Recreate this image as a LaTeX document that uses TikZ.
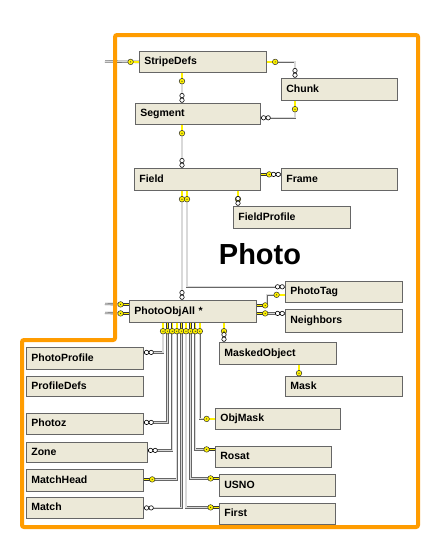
\documentclass[tikz,border=0pt]{standalone}
\usepackage{fontspec}
\setmainfont{Liberation Sans}
\usetikzlibrary{calc}
\definecolor{tblfill}{HTML}{ECE9D8}
\definecolor{keyyellow}{HTML}{FFF200}
\definecolor{frameorange}{HTML}{FF9C00}
\tikzset{
  tbl/.style 2 args={draw=black!60, line width=0.8pt, fill=tblfill, anchor=north west,
    inner xsep=5pt, inner ysep=0pt, align=left, text width=#1, minimum height=#2,
    text height=8pt, text depth=2pt, font=\bfseries\fontsize{10.5}{12}\selectfont},
  link/.style={draw=black!60, double=black!15, double distance=1.1pt, line width=0.6pt},
  pkey/.pic={
    \draw[black!80, line width=2.4pt] (0,0) -- (6,0);
    \draw[keyyellow, line width=1.4pt] (0.3,0) -- (6,0);
    \filldraw[fill=keyyellow, draw=black!80, line width=0.5pt] (8.4,0) circle (2.8);
    \fill[black!80] (8.4,0) circle (0.6);
  },
  many/.pic={
    \filldraw[fill=white, draw=black, line width=0.6pt] (2.8,0) circle (2.2) (7.4,0) circle (2.2);
  }
}

\begin{document}
\begin{tikzpicture}[x=1pt, y=-1pt]
  \fill[white] (0,0) rectangle (440,560);
  \useasboundingbox (0,0) rectangle (440,560);

  % tables
  \node[tbl={117pt}{21pt}] (StripeDefs) at (139,51) {StripeDefs};
  \node[tbl={106pt}{22pt}] (Chunk) at (281,78) {Chunk};
  \node[tbl={115pt}{21pt}] (Segment) at (135,103) {Segment};
  \node[tbl={116pt}{22pt}] (Field) at (134,168) {Field};
  \node[tbl={106pt}{22pt}] (Frame) at (281,168) {Frame};
  \node[tbl={107pt}{22pt}] (FieldProfile) at (233,206) {FieldProfile};
  \node[tbl={117pt}{22pt}] (PhotoObjAll) at (129,300) {PhotoObjAll *};
  \node[tbl={107pt}{21pt}] (PhotoTag) at (285,281) {PhotoTag};
  \node[tbl={107pt}{23pt}] (Neighbors) at (285,309) {Neighbors};
  \node[tbl={107pt}{22pt}] (MaskedObject) at (219,342) {MaskedObject};
  \node[tbl={107pt}{20pt}] (Mask) at (285,376) {Mask};
  \node[tbl={115pt}{21pt}] (ObjMask) at (215,408) {ObjMask};
  \node[tbl={106pt}{21pt}] (Rosat) at (215,446) {Rosat};
  \node[tbl={106pt}{22pt}] (USNO) at (219,474) {USNO};
  \node[tbl={106pt}{21pt}] (First) at (219,503) {First};
  \node[tbl={107pt}{22pt}] (PhotoProfile) at (26,347) {PhotoProfile};
  \node[tbl={107pt}{20pt}] (ProfileDefs) at (26,376) {ProfileDefs};
  \node[tbl={107pt}{21pt}] (Photoz) at (26,413) {Photoz};
  \node[tbl={111pt}{20pt}] (Zone) at (26,442) {Zone};
  \node[tbl={107pt}{22pt}] (MatchHead) at (26,469) {MatchHead};
  \node[tbl={107pt}{21pt}] (Match) at (26,497) {Match};

  \node[font=\bfseries\fontsize{29}{34}\selectfont] (title) at (260,254) {Photo};

  % free ends
  \coordinate (sdin) at (105,61.5);
  \coordinate (poin1) at (105,304);
  \coordinate (poin2) at (105,313);

  % StripeDefs, Chunk, Segment
  \draw[link] (sdin) -- (StripeDefs.west);
  \draw[link] (StripeDefs.east) -| ([xshift=14pt]Chunk.north west);
  \draw[link] ([xshift=43pt]StripeDefs.south west) -- ([xshift=47pt]Segment.north west);
  \draw[link] ([xshift=14pt]Chunk.south west) |- ([yshift=7pt]Segment.south east);
  \draw[link] ([xshift=47pt]Segment.south west) -- ([xshift=48pt]Field.north west);

  % Field
  \draw[link] ([yshift=5pt]Field.east) -- ([yshift=5pt]Frame.west);
  \draw[link] ([xshift=104pt]Field.south west) -- ([xshift=5pt]FieldProfile.north west);
  \draw[link] ([xshift=48pt]Field.south west) -- ([xshift=53pt]PhotoObjAll.north west);
  \draw[link] ([xshift=53pt]Field.south west) |- ([yshift=16pt]PhotoTag.south west);

  % PhotoObjAll
  \draw[link] (poin1) -- ([yshift=7pt]PhotoObjAll.west);
  \draw[link] (poin2) -- ([yshift=-2pt]PhotoObjAll.west);
  \draw[link] ([yshift=6pt]PhotoObjAll.east) -- ++(10,0) |- ([yshift=8pt]PhotoTag.south west);
  \draw[link] ([yshift=-2pt]PhotoObjAll.east) -- ([yshift=-2pt]PhotoObjAll.east -| Neighbors.west);
  \draw[link] ([xshift=95pt]PhotoObjAll.south west) -- ([xshift=5pt]MaskedObject.north west);
  \draw[link] ([xshift=80pt]MaskedObject.south west) -- ([xshift=14pt]Mask.north west);

  % fan below PhotoObjAll
  \foreach \i/\tname/\dy/\side in {0/PhotoProfile/6/east, 1/Photoz/1.5/east, 2/Zone/2/east,
      3/MatchHead/1/east, 4/Match/0/east, 5/First/6.5/west, 6/USNO/7/west,
      7/Rosat/7.5/west, 8/ObjMask/0/west}
    \draw[link] ([xshift=34pt+4.6pt*\i]PhotoObjAll.south west) |- ([yshift=\dy pt]\tname.\side);

  % end marks
  \pic[rotate=180] at (StripeDefs.west) {pkey};
  \pic at (StripeDefs.east) {pkey};
  \pic[rotate=90] at ([xshift=14pt]Chunk.north west) {many};
  \pic[rotate=270] at ([xshift=43pt]StripeDefs.south west) {pkey};
  \pic[rotate=90] at ([xshift=47pt]Segment.north west) {many};
  \pic[rotate=270] at ([xshift=14pt]Chunk.south west) {pkey};
  \pic at ([yshift=7pt]Segment.south east) {many};
  \pic[rotate=270] at ([xshift=47pt]Segment.south west) {pkey};
  \pic[rotate=90] at ([xshift=48pt]Field.north west) {many};

  \pic at ([yshift=5pt]Field.east) {pkey};
  \pic[rotate=180] at ([yshift=5pt]Frame.west) {many};
  \pic[rotate=270] at ([xshift=104pt]Field.south west) {pkey};
  \pic[rotate=90] at ([xshift=5pt]FieldProfile.north west) {many};
  \pic[rotate=270] at ([xshift=48pt]Field.south west) {pkey};
  \pic[rotate=270] at ([xshift=53pt]Field.south west) {pkey};
  \pic[rotate=90] at ([xshift=53pt]PhotoObjAll.north west) {many};
  \pic[rotate=180] at ([yshift=16pt]PhotoTag.south west) {many};

  \pic[rotate=180] at ([yshift=7pt]PhotoObjAll.west) {pkey};
  \pic[rotate=180] at ([yshift=-2pt]PhotoObjAll.west) {pkey};
  \pic at ([yshift=6pt]PhotoObjAll.east) {pkey};
  \pic[rotate=180] at ([yshift=8pt]PhotoTag.south west) {pkey};
  \pic at ([yshift=-2pt]PhotoObjAll.east) {pkey};
  \pic[rotate=180] at ([yshift=-2pt]PhotoObjAll.east -| Neighbors.west) {many};
  \pic[rotate=270] at ([xshift=95pt]PhotoObjAll.south west) {pkey};
  \pic[rotate=90] at ([xshift=5pt]MaskedObject.north west) {many};
  \pic[rotate=270] at ([xshift=80pt]MaskedObject.south west) {pkey};

  \foreach \i/\tname/\dy/\side/\rot/\mark in {0/PhotoProfile/6/east/0/many, 1/Photoz/1.5/east/0/many,
      2/Zone/2/east/0/many, 3/MatchHead/1/east/0/pkey, 4/Match/0/east/0/many,
      5/First/6.5/west/180/pkey, 6/USNO/7/west/180/pkey, 7/Rosat/7.5/west/180/pkey,
      8/ObjMask/0/west/180/pkey}
  {
    \pic[rotate=270] at ([xshift=34pt+4.6pt*\i]PhotoObjAll.south west) {pkey};
    \pic[rotate=\rot] at ([yshift=\dy pt]\tname.\side) {\mark};
  }

  % subject area frame
  \draw[frameorange, line width=4pt, rounded corners=2pt]
    (115,35) -- (418,35) -- (418,527) -- (22,527) -- (22,340) -- (115,340) -- cycle;
\end{tikzpicture}
\end{document}
